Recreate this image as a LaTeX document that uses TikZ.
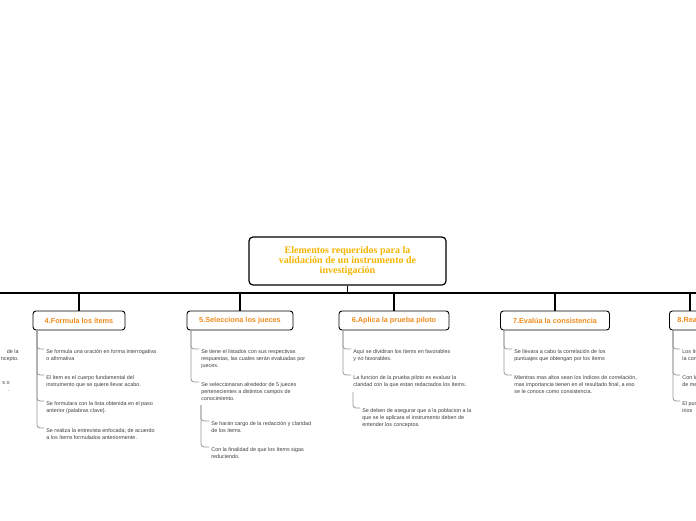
\documentclass[tikz,border=0pt]{standalone}
\usepackage{fontspec}
\setmainfont{Liberation Sans}
\newfontfamily\titlefont{Liberation Serif}
\definecolor{titleorange}{RGB}{245,180,0}
\definecolor{branchorange}{RGB}{240,140,30}
\definecolor{twiggray}{RGB}{150,150,150}
\definecolor{textgray}{RGB}{60,60,60}
\tikzset{every picture/.style={line width=0.75pt}}
\tikzset{
  rootbox/.style={draw=black, line width=1.2pt, rounded corners=4pt, fill=white, minimum width=197pt, minimum height=48pt, align=center, text=titleorange, font=\titlefont\bfseries\fontsize{10}{10}\selectfont},
  branchbox/.style={draw=black, line width=0.9pt, rounded corners=3pt, fill=white, minimum height=19pt, inner xsep=6pt, text=branchorange, font=\bfseries\fontsize{7.3}{7.3}\selectfont},
  leaf/.style={anchor=north west, align=left, inner sep=0pt, text=textgray, font=\fontsize{5.4}{7.2}\selectfont},
  twig/.style={draw=twiggray, line width=0.8pt, rounded corners=3pt},
  trunk/.style={draw=black, line width=1.1pt}
}
\begin{document}
\begin{tikzpicture}[x=1pt,y=1pt,yscale=-1]
	\useasboundingbox (0,0) rectangle (696,520);
	\clip (0,0) rectangle (696,520);

	% Root
	\node[rootbox] (root) at (347.5,261) {Elementos requeridos para la\\validación de un instrumento de\\investigación};
	\draw[trunk] (0,293) -- (696,293);
	\draw[trunk] (root.south) -- (347.5,293);

	% Branches
	\node[branchbox, minimum width=92pt] (b4) at (79,320.5) {4.Formula los ítems};
	\node[branchbox, minimum width=106pt] (b5) at (240,320.5) {5.Selecciona los jueces};
	\node[branchbox, minimum width=110pt] (b6) at (394,320.5) {6.Aplica la prueba piloto};
	\node[branchbox, minimum width=109pt] (b7) at (555,320.5) {7.Evalúa la consistencia};
	\node[branchbox, anchor=west, inner xsep=8pt] (b8) at (669,320.5) {8.Realiza la prueba};
	\foreach \b/\x in {b4/79,b5/240,b6/394,b7/555,b8/690}
		\draw[trunk] (\x,293) -- (\b.north -| \x,0) ;

	% Leaves of 4
	\node[leaf] (l41) at (46,349) {Se formula una oración en forma interrogativa\\o afirmativa};
	\node[leaf] (l42) at (46,375) {El ítem es el cuerpo fundamental del\\instrumento que se quiere llevar acabo.};
	\node[leaf] (l43) at (46,401) {Se formulara con la lista obtenida en el paso\\anterior (palabras clave).};
	\node[leaf] (l44) at (46,428) {Se realiza la entrevista enfocada; de acuerdo\\a los ítems formulados anteriormente.};
	\foreach \l in {l41,l42,l43,l44}
		\draw[twig] (37,330) |- ([xshift=-2pt]\l.north west) ++(0,2.5);

	% Leaves of 5
	\node[leaf] (l51) at (201,349) {Se tiene el listados con sus respectivas\\respuestas, las cuales serán evaluadas por\\jueces.};
	\node[leaf] (l52) at (201,382) {Se seleccionaran alrededor de 5 jueces\\pertenecientes a distintos campos de\\conocimiento.};
	\foreach \l in {l51,l52}
		\draw[twig] (191,330) |- ([xshift=-2pt]\l.north west) ++(0,2.5);
	\node[leaf] (l53) at (211,421) {Se harán cargo de la redacción y claridad\\de los ítems.};
	\node[leaf] (l54) at (211,447) {Con la finalidad de que los ítems sigas\\reduciendo.};
	\foreach \l in {l53,l54}
		\draw[twig] (201,405) |- ([xshift=-2pt]\l.north west) ++(0,2.5);

	% Leaves of 6
	\node[leaf] (l61) at (353,349) {Aquí se dividiran los ítems en favorables\\y no favorables.};
	\node[leaf] (l62) at (353,375) {La funcion de la prueba piloto es evaluar la\\claridad con la que estan redactados los ítems.};
	\foreach \l in {l61,l62}
		\draw[twig] (343,330) |- ([xshift=-2pt]\l.north west) ++(0,2.5);
	\node[leaf] (l63) at (362,408) {Se deben de asegurar que a la poblacion a la\\que se le aplicara el instrumento deben de\\entender los conceptos.};
	\draw[twig] (353,392) |- ([xshift=-2pt]l63.north west) ++(0,6);

	% Leaves of 7
	\node[leaf] (l71) at (514,349) {Se llevara a cabo la correlación de los\\puntuajes que obtengan por los ítems};
	\node[leaf] (l72) at (514,375) {Mientras mas altos sean los índices de correlación,\\mas importancia tienen en el resultado final, a eso\\se le conoce como consistencia.};
	\foreach \l in {l71,l72}
		\draw[twig] (504,330) |- ([xshift=-2pt]\l.north west) ++(0,2.5);

	% Leaves of 8 (cut off at the edge)
	\node[leaf] (l81) at (682,349) {Los ítems\\la confiabilidad};
	\node[leaf] (l82) at (682,375) {Con la\\de medir};
	\node[leaf] (l83) at (682,401) {El puntaje\\irios};
	\foreach \l in {l81,l82,l83}
		\draw[twig] (673,330) |- ([xshift=-2pt]\l.north west) ++(0,2.5);

	% Leaves of 3 (cut off at the edge)
	\node[leaf, anchor=north east, align=right] (l31) at (19,349) {de la\\ncepto.};
	\node[leaf, anchor=north east, align=right] (l32) at (10,381) {s o\\.};
\end{tikzpicture}
\end{document}
